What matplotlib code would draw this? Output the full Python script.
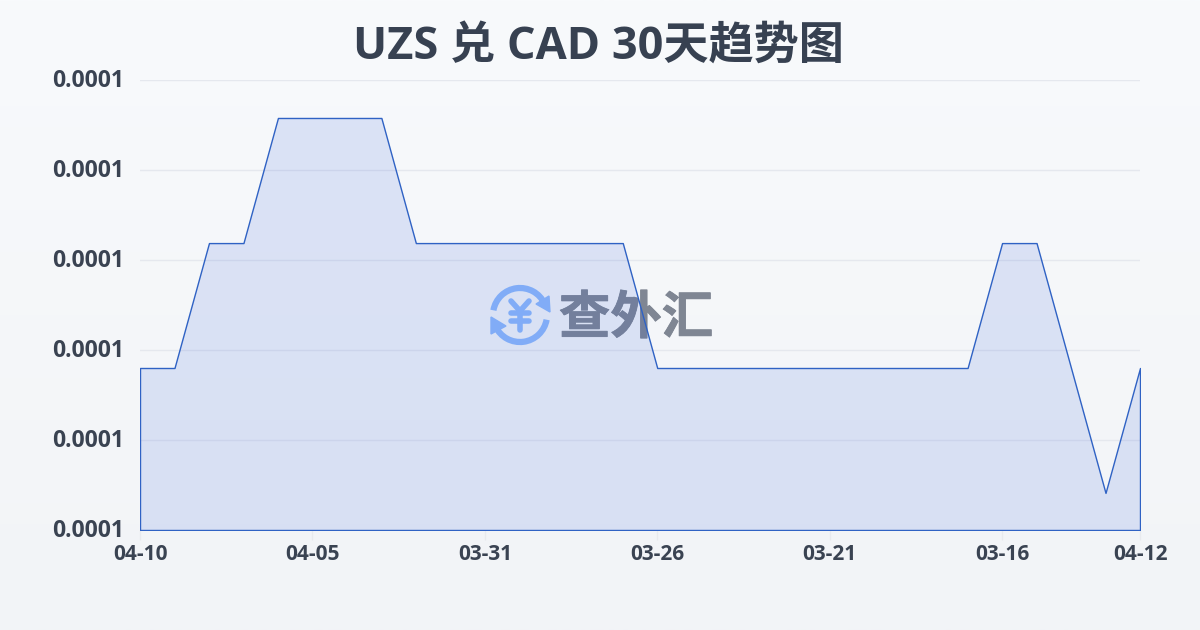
import numpy as np
import matplotlib
matplotlib.use('Agg')
import matplotlib.pyplot as plt
import matplotlib.patheffects as pe
from matplotlib.patches import Arc, Polygon
from matplotlib.transforms import ScaledTranslation

plt.rcParams['font.family'] = ['Open Sans', 'Noto Sans CJK SC', 'DejaVu Sans']

# values
low = 0.00010206
mid = 0.00010900
high = 0.00011594
top = 0.00012289
rates = [mid, mid, high, high, top, top, top, top, high, high,
         high, high, high, high, high, mid, mid, mid, mid, mid,
         mid, mid, mid, mid, mid, high, high, mid, low, mid]
tick_idx = [0, 5, 10, 15, 20, 25, 29]
tick_labels = ['04-10', '04-05', '03-31', '03-26', '03-21', '03-16', '04-12']
y_ticks = [0.000100, 0.000105, 0.000110, 0.000115, 0.000120, 0.000125]
title = 'UZS 兑 CAD 30天趋势图'

fig = plt.figure(figsize=(12, 6.3), dpi=100)

# page background
bg = fig.add_axes([0, 0, 1, 1], zorder=0)
grad = np.linspace(0, 1, 256).reshape(-1, 1, 1)
c1 = np.array([0xf8, 0xfa, 0xfc]) / 255
c2 = np.array([0xf2, 0xf4, 0xf7]) / 255
bg.imshow(c1 + grad * (c2 - c1), aspect='auto', extent=[0, 1, 0, 1])
bg.axis('off')

# watermark, in page pixels, sits under the chart
wm = fig.add_axes([0, 0, 1, 1], zorder=1)
wm.set_xlim(0, 1200)
wm.set_ylim(630, 0)
wm.axis('off')
blue = '#8fbafc'
wm.add_patch(Arc((520, 315), 54, 54, theta1=190, theta2=335, color=blue, lw=4.5))
wm.add_patch(Arc((520, 315), 54, 54, theta1=10, theta2=155, color=blue, lw=4.5))
wm.add_patch(Polygon([[549, 296], [550, 312], [536, 304]], color=blue))
wm.add_patch(Polygon([[491, 317], [506, 326], [491, 334]], color=blue))
# yen sign with round ends
for xs, ys in [([511, 520, 529], [301, 311, 301]), ([520, 520], [311, 330]),
               ([511, 529], [313, 313]), ([511, 529], [321, 321])]:
    wm.plot(xs, ys, color=blue, lw=4, solid_capstyle='round', solid_joinstyle='round')
wm_text = wm.text(636, 318, '查外汇', ha='center', va='center', fontsize=37, fontweight='bold',
                  color='#7f8693', family=['Noto Sans CJK SC'])
wm_text.set_path_effects([pe.withStroke(linewidth=0.6, foreground='#7f8693')])

ax = fig.add_axes([140 / 1200, 100 / 630, 1000 / 1200, 450 / 630], zorder=2)
ax.patch.set_alpha(0)
x = np.arange(len(rates))
ax.fill_between(x, rates, y_ticks[0], facecolor=(0.145, 0.33, 0.85, 0.13),
                edgecolor='#2f62c4', linewidth=1, zorder=3)
ax.set_xlim(0, len(rates) - 1)
ax.set_ylim(y_ticks[0], y_ticks[-1])
ax.set_xticks(tick_idx)
ax.set_xticklabels(tick_labels, fontsize=15, fontweight='bold', color='#3a4352')
ax.set_yticks(y_ticks)
ax.set_yticklabels(['%.4f' % v for v in y_ticks], fontsize=16.5,
                   fontweight='bold', color='#3a4352')
ax.tick_params(axis='x', length=7, width=1, color='#e8eaee', pad=3)
ax.tick_params(axis='y', length=0, pad=11.5)
shift = ScaledTranslation(0, 2 / 100, fig.dpi_scale_trans)
for lab in ax.get_yticklabels():
    lab.set_transform(lab.get_transform() + shift)
ax.grid(axis='y', color='#e5e8ee', linewidth=1, zorder=1)
ax.set_axisbelow(True)
for s in ax.spines.values():
    s.set_visible(False)

fig.text(0.4985, 1 - 47 / 630, title, ha='center', va='center', fontsize=32.5,
         fontweight='bold', color='#374151')

fig.savefig('out.png', dpi=100)
